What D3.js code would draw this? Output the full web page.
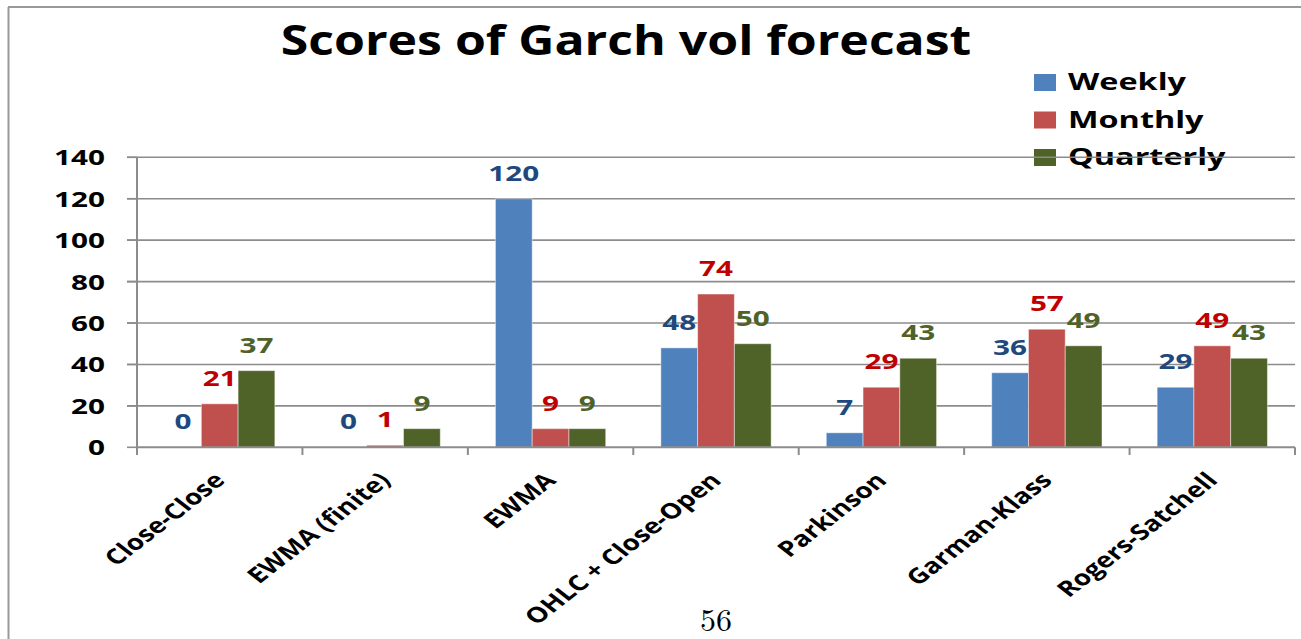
<!DOCTYPE html>
<html>
<head>
<meta charset="utf-8">
<script src="https://cdn.jsdelivr.net/npm/d3@7"></script>
<style>
  body { margin: 0; background: #fff; }
  text { font-family: "Open Sans", sans-serif; font-weight: 700; }
</style>
</head>
<body>
<script>
var width = 1301, height = 639;

var categories = ["Close-Close", "EWMA (finite)", "EWMA", "OHLC + Close-Open", "Parkinson", "Garman-Klass", "Rogers-Satchell"];
var seriesNames = ["Weekly", "Monthly", "Quarterly"];
var weekly = [0, 0, 120, 48, 7, 36, 29];
var monthly = [21, 1, 9, 74, 29, 57, 49];
var quarterly = [37, 9, 9, 50, 43, 49, 43];
var yTicks = [0, 20, 40, 60, 80, 100, 120, 140];

var fills = ["#4F81BD", "#C0504D", "#4F6228"];
var labelColors = ["#1F497D", "#C00000", "#4F6228"];
var SX = 1.35; // the picture is stretched sideways

var svg = d3.select("body").append("svg")
    .attr("width", width).attr("height", height);

// frame
svg.append("line").attr("x1", 8.5).attr("x2", 8.5).attr("y1", 7).attr("y2", height)
    .attr("stroke", "#999").attr("stroke-width", 2);
svg.append("line").attr("x1", 8).attr("x2", width).attr("y1", 7).attr("y2", 7)
    .attr("stroke", "#999").attr("stroke-width", 2);

var x = d3.scaleBand().domain(categories).range([137, 1295]);
var y = d3.scaleLinear().domain([0, 140]).range([447.3, 157.3]);
var xs = d3.scaleBand().domain(seriesNames).range([0, x.bandwidth()]).paddingOuter(0.75);

// title
svg.append("text").attr("transform", "translate(626,55) scale(1.19,1)")
    .attr("text-anchor", "middle").style("font-size", "42px").attr("fill", "#000")
    .text("Scores of Garch vol forecast");

// legend
var leg = svg.append("g");
seriesNames.forEach(function (s, i) {
  var ly = 90 + i * 37.5;
  leg.append("rect").attr("x", 1034).attr("y", ly - 16).attr("width", 22).attr("height", 17)
      .attr("fill", fills[i]);
  leg.append("text").attr("transform", "translate(1068," + ly + ") scale(" + SX + ",1)")
      .style("font-size", "24px").attr("fill", "#000").text(s);
});

// gridlines
svg.append("g").selectAll("line").data(yTicks.slice(1)).enter().append("line")
    .attr("x1", 127).attr("x2", 1295)
    .attr("y1", function (d) { return y(d); }).attr("y2", function (d) { return y(d); })
    .attr("stroke", "#8c8c8c").attr("stroke-width", 1.6);

// y axis
var yAxis = svg.append("g");
yAxis.append("line").attr("x1", 137).attr("x2", 137).attr("y1", 157.3).attr("y2", 455)
    .attr("stroke", "#8c8c8c").attr("stroke-width", 2);
yAxis.selectAll("line.tk").data(yTicks).enter().append("line").attr("class", "tk")
    .attr("x1", 127).attr("x2", 137)
    .attr("y1", function (d) { return y(d); }).attr("y2", function (d) { return y(d); })
    .attr("stroke", "#8c8c8c").attr("stroke-width", 1.6);
yAxis.selectAll("text").data(yTicks).enter().append("text")
    .attr("transform", function (d) { return "translate(105," + (y(d) + 8) + ") scale(" + SX + ",1)"; })
    .attr("text-anchor", "end").style("font-size", "22px").attr("fill", "#000")
    .text(function (d) { return d; });

// bars
var series = [weekly, monthly, quarterly];
series.forEach(function (vals, si) {
  var g = svg.append("g");
  g.selectAll("rect").data(vals).enter().append("rect")
      .attr("x", function (d, i) { return x(categories[i]) + xs(seriesNames[si]); })
      .attr("width", xs.bandwidth())
      .attr("y", function (d) { return y(d); })
      .attr("height", function (d) { return y(0) - y(d); })
      .attr("fill", fills[si])
      .attr("stroke", "rgba(255,255,255,0.45)").attr("stroke-width", 1);
  g.selectAll("text").data(vals).enter().append("text")
      .attr("transform", function (d, i) {
        var cx = x(categories[i]) + xs(seriesNames[si]) + xs.bandwidth() / 2;
        return "translate(" + cx + "," + (y(d) - 18) + ") scale(" + SX + ",1)";
      })
      .attr("text-anchor", "middle").style("font-size", "22px").attr("fill", labelColors[si])
      .text(function (d) { return d; });
});

// x axis
var xAxis = svg.append("g");
xAxis.append("line").attr("x1", 137).attr("x2", 1295).attr("y1", 447.3).attr("y2", 447.3)
    .attr("stroke", "#8c8c8c").attr("stroke-width", 2);
var bounds = categories.map(function (c) { return x(c); }).concat([x.range()[1]]);
xAxis.selectAll("line.tk").data(bounds).enter().append("line").attr("class", "tk")
    .attr("x1", function (d) { return d; }).attr("x2", function (d) { return d; })
    .attr("y1", 447.3).attr("y2", 455)
    .attr("stroke", "#8c8c8c").attr("stroke-width", 2);
xAxis.selectAll("text").data(categories).enter().append("text")
    .attr("transform", function (d) {
      return "translate(" + (x(d) + x.bandwidth() / 2 - 7) + ",471) scale(1.29,1) rotate(-45)";
    })
    .attr("text-anchor", "end").attr("dy", "0.7em").style("font-size", "21.5px").attr("fill", "#000")
    .text(function (d) { return d; });

// page number
svg.append("text").attr("x", 716).attr("y", 631).attr("text-anchor", "middle")
    .style("font-family", "'Latin Modern Roman', 'DejaVu Serif', serif").style("font-weight", "400")
    .style("font-size", "32px").attr("fill", "#000").text("56");
</script>
</body>
</html>
